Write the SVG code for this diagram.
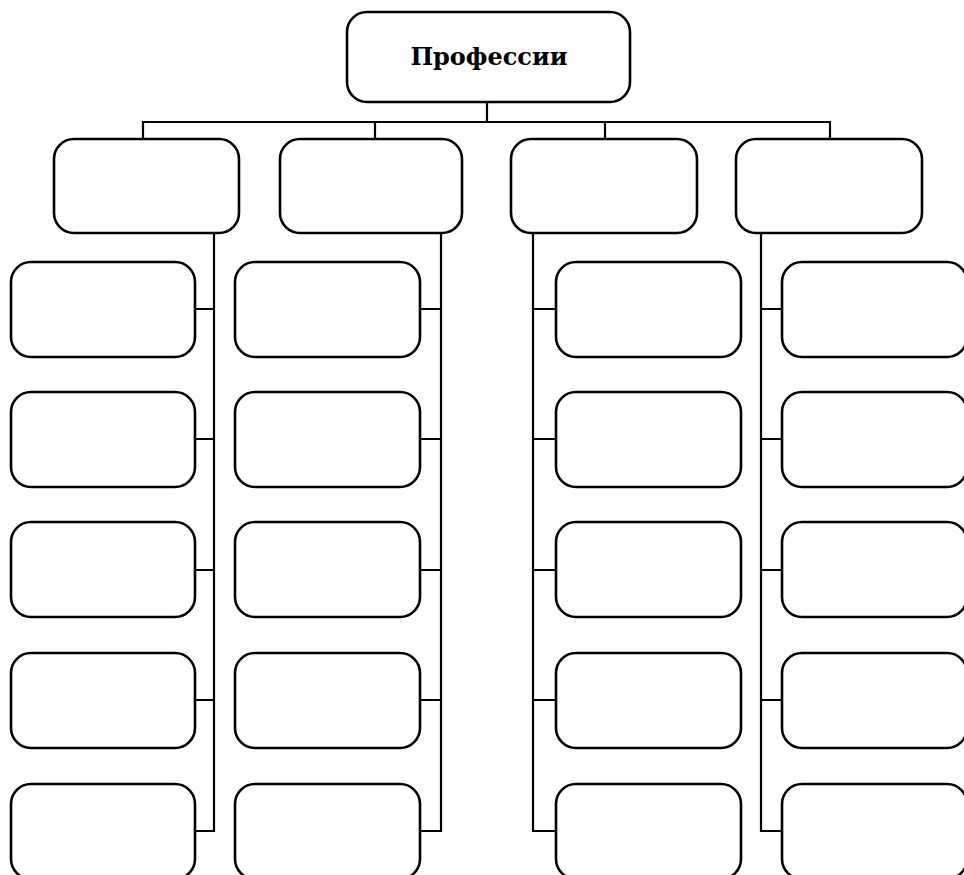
<svg xmlns="http://www.w3.org/2000/svg" width="964" height="875" viewBox="0 0 964 875">
<style>
.box{fill:#fff;stroke:#000;stroke-width:2.6}
.ln{fill:none;stroke:#000;stroke-width:2.2}
.t{font-family:"DejaVu Serif","Liberation Serif",serif;font-weight:bold;font-size:24px;text-anchor:middle}
</style>
<rect width="964" height="875" fill="#fff"/>
<g id="connectors">
<path class="ln" d="M487,102 V122 M143,139 V122 H830 V139 M375,122 V139 M605,122 V139"/>
<path class="ln" d="M214,233 V831 H195 M214,309 H195 M214,439 H195 M214,570 H195 M214,700 H195"/>
<path class="ln" d="M441,233 V831 H420 M441,309 H420 M441,439 H420 M441,570 H420 M441,700 H420"/>
<path class="ln" d="M533,233 V831 H556 M533,309 H556 M533,439 H556 M533,570 H556 M533,700 H556"/>
<path class="ln" d="M761,233 V831 H782 M761,309 H782 M761,439 H782 M761,570 H782 M761,700 H782"/>
</g>
<g id="root"><rect class="box" x="347" y="12" width="283" height="90" rx="20"/><text class="t" x="489" y="65">Профессии</text></g>
<g id="h1"><rect class="box" x="54" y="139" width="185" height="94" rx="20"/></g>
<g id="h2"><rect class="box" x="280" y="139" width="182" height="94" rx="20"/></g>
<g id="h3"><rect class="box" x="511" y="139" width="186" height="94" rx="20"/></g>
<g id="h4"><rect class="box" x="736" y="139" width="186" height="94" rx="20"/></g>
<g id="c1r1"><rect class="box" x="11" y="262" width="184" height="95" rx="20"/></g>
<g id="c1r2"><rect class="box" x="11" y="392" width="184" height="95" rx="20"/></g>
<g id="c1r3"><rect class="box" x="11" y="522" width="184" height="95" rx="20"/></g>
<g id="c1r4"><rect class="box" x="11" y="653" width="184" height="95" rx="20"/></g>
<g id="c1r5"><rect class="box" x="11" y="784" width="184" height="95" rx="20"/></g>
<g id="c2r1"><rect class="box" x="235" y="262" width="185" height="95" rx="20"/></g>
<g id="c2r2"><rect class="box" x="235" y="392" width="185" height="95" rx="20"/></g>
<g id="c2r3"><rect class="box" x="235" y="522" width="185" height="95" rx="20"/></g>
<g id="c2r4"><rect class="box" x="235" y="653" width="185" height="95" rx="20"/></g>
<g id="c2r5"><rect class="box" x="235" y="784" width="185" height="95" rx="20"/></g>
<g id="c3r1"><rect class="box" x="556" y="262" width="185" height="95" rx="20"/></g>
<g id="c3r2"><rect class="box" x="556" y="392" width="185" height="95" rx="20"/></g>
<g id="c3r3"><rect class="box" x="556" y="522" width="185" height="95" rx="20"/></g>
<g id="c3r4"><rect class="box" x="556" y="653" width="185" height="95" rx="20"/></g>
<g id="c3r5"><rect class="box" x="556" y="784" width="185" height="95" rx="20"/></g>
<g id="c4r1"><rect class="box" x="782" y="262" width="185" height="95" rx="20"/></g>
<g id="c4r2"><rect class="box" x="782" y="392" width="185" height="95" rx="20"/></g>
<g id="c4r3"><rect class="box" x="782" y="522" width="185" height="95" rx="20"/></g>
<g id="c4r4"><rect class="box" x="782" y="653" width="185" height="95" rx="20"/></g>
<g id="c4r5"><rect class="box" x="782" y="784" width="185" height="95" rx="20"/></g>
</svg>
